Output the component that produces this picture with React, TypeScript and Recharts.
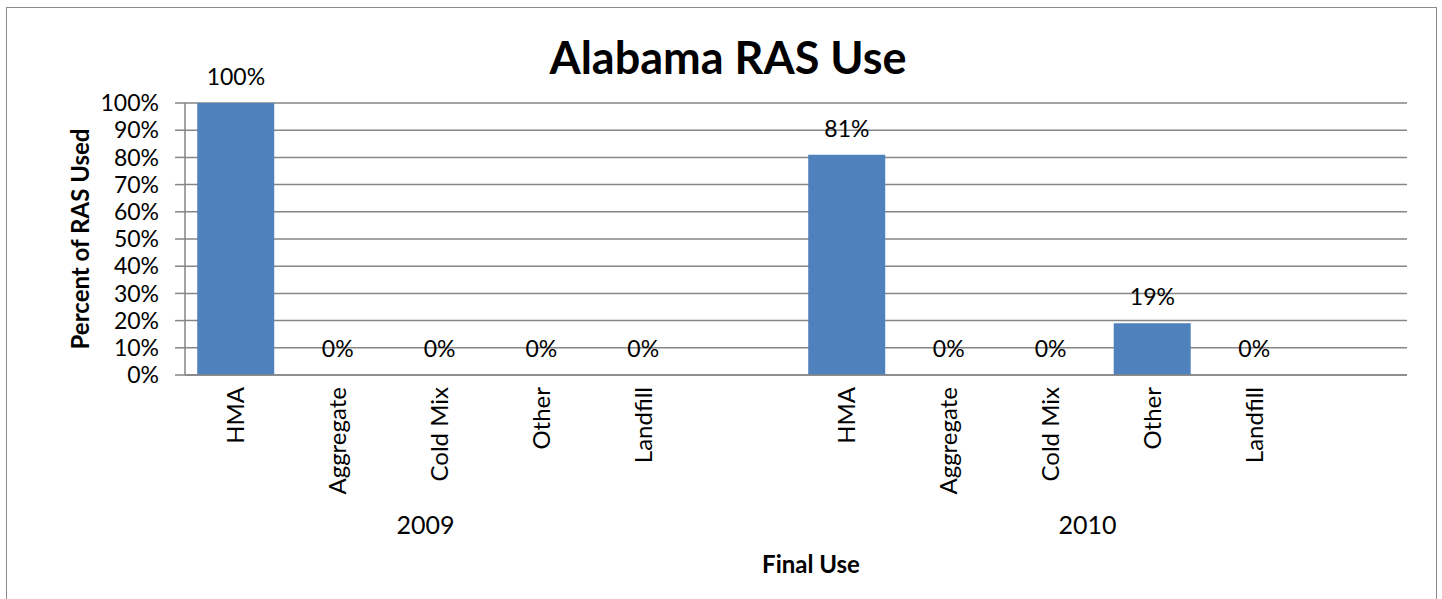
import React from 'react'
import { ComposedChart, Bar, Line, XAxis, YAxis, CartesianGrid, LabelList, Label } from 'recharts'

// Chart data (percent of RAS used by final use)
const categories = ['HMA', 'Aggregate', 'Cold Mix', 'Other', 'Landfill']
const years = ['2009', '2010']
const values2009 = [100, 0, 0, 0, 0]
const values2010 = [81, 0, 0, 19, 0]
const yTicks = [0, 10, 20, 30, 40, 50, 60, 70, 80, 90, 100]

const WIDTH = 1442
const HEIGHT = 599
const PLOT_LEFT = 185
const PLOT_RIGHT = 1407
const FONT = "Lato, 'Open Sans', sans-serif"

interface Row {
  key: string
  name: string
  value: number | null
  year?: string
  span?: number
}

// each year gets its five categories plus one empty slot, like the Excel original
const rows: Row[] = []
;[values2009, values2010].forEach((vals, gi) => {
  categories.forEach((name, i) => {
    rows.push({
      key: `${years[gi]}-${name}`,
      name,
      value: vals[i],
      year: i === 0 ? years[gi] : undefined,
      span: gi === 0 ? 5 : 6,
    })
  })
  rows.push({ key: `${years[gi]}-gap`, name: '', value: null })
})

const step = (PLOT_RIGHT - PLOT_LEFT) / rows.length

const CategoryTick = (props: any) => {
  const { x, y, index } = props
  const row = rows[index]
  if (!row) return null
  return (
    <g>
      {row.name && (
        <text
          x={x}
          y={y}
          transform={`rotate(-90, ${x}, ${y})`}
          textAnchor="end"
          dy="0.35em"
          fontSize={24}
          fontFamily={FONT}
          fill="#000"
        >
          {row.name}
        </text>
      )}
      {row.year && (
        <text
          x={x + ((row.span ?? 1) - 1) / 2 * step - 14}
          y={534}
          textAnchor="middle"
          fontSize={25}
          fontFamily={FONT}
          fill="#000"
        >
          {row.year}
        </text>
      )}
    </g>
  )
}

export default function App() {
  return (
    <div style={{ position: 'absolute', left: 0, top: 0, width: WIDTH, height: HEIGHT, overflow: 'hidden', background: '#fff', fontFamily: FONT }}>
      {/* outer chart border, bottom edge runs off the picture */}
      <div style={{ position: 'absolute', left: 6, top: 7, width: 1429, height: 640, border: '1px solid #8c8c8c' }} />

      <div
        style={{
          position: 'absolute',
          top: 35,
          left: 728,
          transform: 'translateX(-50%)',
          fontSize: 45,
          fontWeight: 700,
          lineHeight: 1,
          whiteSpace: 'nowrap',
          color: '#000',
        }}
      >
        Alabama RAS Use
      </div>

      <div style={{ position: 'absolute', left: 0, top: 0 }}>
        <ComposedChart
          width={WIDTH}
          height={HEIGHT}
          data={rows}
          margin={{ top: 103, right: WIDTH - PLOT_RIGHT, bottom: 0, left: 0 }}
          barCategoryGap="12%"
        >
          <CartesianGrid vertical={false} stroke="#868686" strokeWidth={1.5} />
          <XAxis
            dataKey="key"
            interval={0}
            height={HEIGHT - 375}
            tickLine={false}
            tickSize={0}
            tickMargin={12}
            axisLine={{ stroke: '#868686', strokeWidth: 1.5 }}
            tick={<CategoryTick />}
          >
            <Label
              value="Final Use"
              position="insideBottom"
              offset={26}
              dx={15}
              style={{ fontSize: 24, fontWeight: 700, fontFamily: FONT, fill: '#000' }}
            />
          </XAxis>
          <YAxis
            width={PLOT_LEFT}
            domain={[0, 100]}
            ticks={yTicks}
            interval={0}
            tickSize={10}
            tickMargin={16}
            tickFormatter={(v: number) => `${v}%`}
            axisLine={{ stroke: '#868686', strokeWidth: 1.5 }}
            tickLine={{ stroke: '#868686', strokeWidth: 1.5 }}
            tick={{ fontSize: 23, fontFamily: FONT, fill: '#000' }}
          >
            <Label
              value="Percent of RAS Used"
              angle={-90}
              position="insideLeft"
              offset={80}
              style={{ textAnchor: 'middle', fontSize: 24, fontWeight: 700, fontFamily: FONT, fill: '#000' }}
            />
          </YAxis>
          <Bar dataKey="value" fill="#4f81bd" isAnimationActive={false} />
          {/* invisible series that carries the data labels, so 0% values get one too */}
          <Line
            dataKey="value"
            stroke="none"
            dot={false}
            activeDot={false}
            legendType="none"
            isAnimationActive={false}
          >
            <LabelList
              dataKey="value"
              position="top"
              offset={18}
              formatter={(v: any) => (v == null ? '' : `${v}%`)}
              style={{ fontSize: 23, fontFamily: FONT, fill: '#000' }}
            />
          </Line>
        </ComposedChart>
      </div>
    </div>
  )
}
